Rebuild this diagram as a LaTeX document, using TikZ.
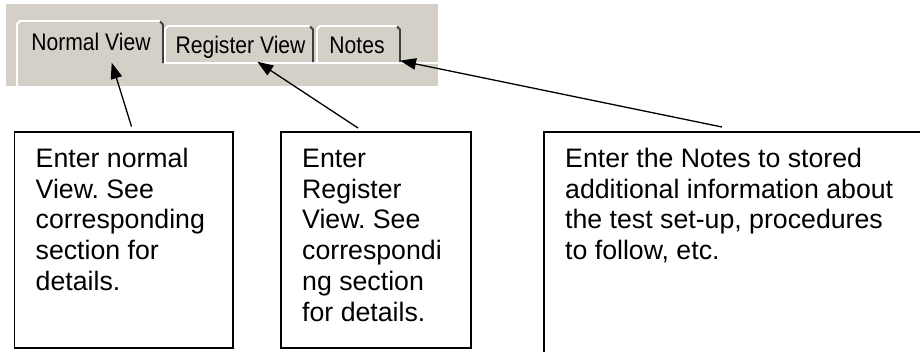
\documentclass[tikz,border=0pt]{standalone}
\usepackage{fontspec}
\setmainfont{Liberation Sans}
\usetikzlibrary{arrows.meta,calc}
\definecolor{bggray}{RGB}{212,208,200}
\definecolor{edgedark}{RGB}{64,64,64}
\frenchspacing
\begin{document}
\begin{tikzpicture}[x=1pt,y=-1pt,
 infobox/.style={draw=black, line width=1.8pt, rectangle, anchor=north west, inner sep=0pt, outer sep=0pt},
 infotext/.style={anchor=north west, inner sep=0pt, align=left, font=\fontsize{26.7}{30.8}\selectfont},
 tabtext/.style={anchor=base, inner sep=0pt, font=\fontsize{24}{28}\selectfont},
 callout/.style={line width=1.3pt, -{Triangle[length=16pt,width=11.5pt]}},
 hilite/.style={draw=white, line width=1.8pt},
 shade/.style={draw=edgedark, line width=1.8pt}]
\useasboundingbox (0,0) rectangle (920,351);
\clip (0,0) rectangle (920,351);
\fill[white] (0,0) rectangle (920,351);
% tab strip
\fill[bggray] (6,4) rectangle (438,86);
\draw[hilite] (17,86) -- (17,24) -- (20,21) -- (160,21);
\draw[shade] (160,21.5) -- (163,24.5) -- (163,63);
\draw[hilite] (164,63) -- (438,63);
\draw[hilite] (165,62) -- (165,29) -- (168,26) -- (310,26);
\draw[shade] (310,26.5) -- (313,29.5) -- (313,62);
\draw[hilite] (317,62) -- (317,29) -- (320,26) -- (397,26);
\draw[shade] (397,26.5) -- (400,29.5) -- (400,62);
\node[tabtext] (tabN) at (91,50) {\scalebox{0.88}[1]{Normal View}};
\node[tabtext] (tabR) at (240.5,53) {\scalebox{0.88}[1]{Register View}};
\node[tabtext] (tabS) at (357,53) {\scalebox{0.88}[1]{Notes}};
% boxes
\node[infobox, minimum width=218.5pt, minimum height=216pt] (b1) at (14.5,132) {};
\node[infobox, minimum width=190pt, minimum height=216pt] (b2) at (281,132) {};
\node[infobox, minimum width=450pt, minimum height=260pt] (b3) at (544,132) {};
\node[infotext] (t1) at (35.5,147) {\rule{0pt}{20pt}Enter normal\\View. See\\corresponding\\section for\\details.};
\node[infotext] (t2) at (302,147) {\rule{0pt}{20pt}Enter\\Register\\View. See\\correspondi\\ng section\\for details.};
\node[infotext] (t3) at (565,147) {\rule{0pt}{20pt}Enter the Notes to stored\\additional information about\\the test set-up, procedures\\to follow, etc.};
% callouts
\coordinate (tipN) at (111.7,62.7);
\coordinate (tipR) at (257.3,61.7);
\coordinate (tipS) at (400,60.7);
\coordinate (tailN) at (131.5,126.5);
\coordinate (tailR) at (358,128);
\coordinate (tailS) at (722,127);
\draw[callout] (tailN) -- (tipN);
\draw[callout] (tailR) -- (tipR);
\draw[callout] (tailS) -- (tipS);
\end{tikzpicture}
\end{document}
